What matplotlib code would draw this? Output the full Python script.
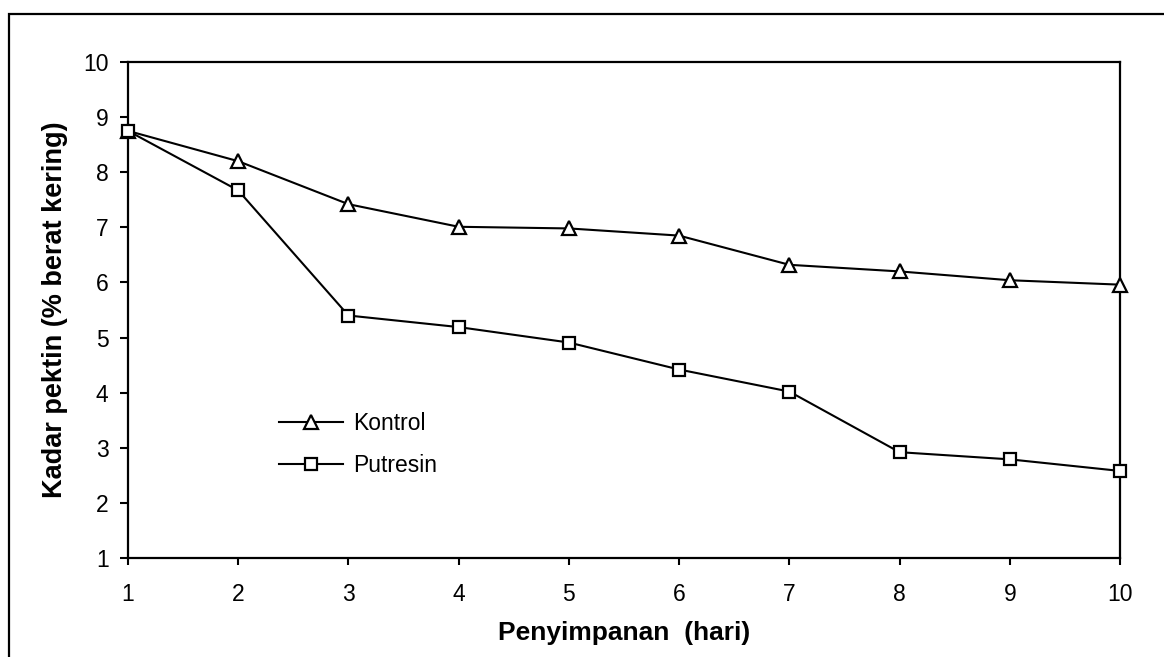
import matplotlib
matplotlib.use("Agg")
import matplotlib.pyplot as plt
from matplotlib.patches import Rectangle

plt.rcParams['font.family'] = ['Liberation Sans', 'DejaVu Sans']

days = [1, 2, 3, 4, 5, 6, 7, 8, 9, 10]
kontrol = [8.75, 8.20, 7.42, 7.01, 6.98, 6.85, 6.32, 6.20, 6.04, 5.96]
putresin = [8.75, 7.67, 5.40, 5.19, 4.91, 4.42, 4.02, 2.92, 2.79, 2.58]
xticks = [1, 2, 3, 4, 5, 6, 7, 8, 9, 10]
yticks = [1, 2, 3, 4, 5, 6, 7, 8, 9, 10]

fig = plt.figure(figsize=(11.64, 6.57), dpi=100)
ax = fig.add_axes([128/1164, 1-558/657, (1120-128)/1164, (558-62)/657])

ax.plot(days, kontrol, color='black', lw=1.5, marker='^', ms=10,
        mfc='white', mec='black', mew=1.6, label='Kontrol', clip_on=False, zorder=3)
ax.plot(days, putresin, color='black', lw=1.5, marker='s', ms=8.5,
        mfc='white', mec='black', mew=1.6, label='Putresin', clip_on=False, zorder=3)

ax.set_xlim(1, 10)
ax.set_ylim(1, 10)
ax.set_xticks(xticks)
ax.set_yticks(yticks)
ax.tick_params(axis='both', labelsize=16.5, width=1.5, length=5, direction='out', color='black')
ax.tick_params(axis='x', pad=13)
ax.tick_params(axis='y', pad=8, length=6)
for s in ax.spines.values():
    s.set_linewidth(1.6)

ax.set_xlabel('Penyimpanan  (hari)', fontsize=19, fontweight='bold', labelpad=11)
ax.set_ylabel('Kadar pektin (% berat kering)', fontsize=19.5, fontweight='bold', labelpad=11)

leg = ax.legend(loc='upper left', bbox_to_anchor=(0.141, 0.318), frameon=False,
                fontsize=16.5, handlelength=2.8, handletextpad=0.4, labelspacing=0.85,
                borderpad=0)

fig.patches.append(Rectangle((8.5/1164, -0.05), 1.2, 1 - 14/657 + 0.05,
                             transform=fig.transFigure, fill=False,
                             edgecolor='black', lw=1.6, figure=fig))

fig.savefig('out.png', dpi=100)
